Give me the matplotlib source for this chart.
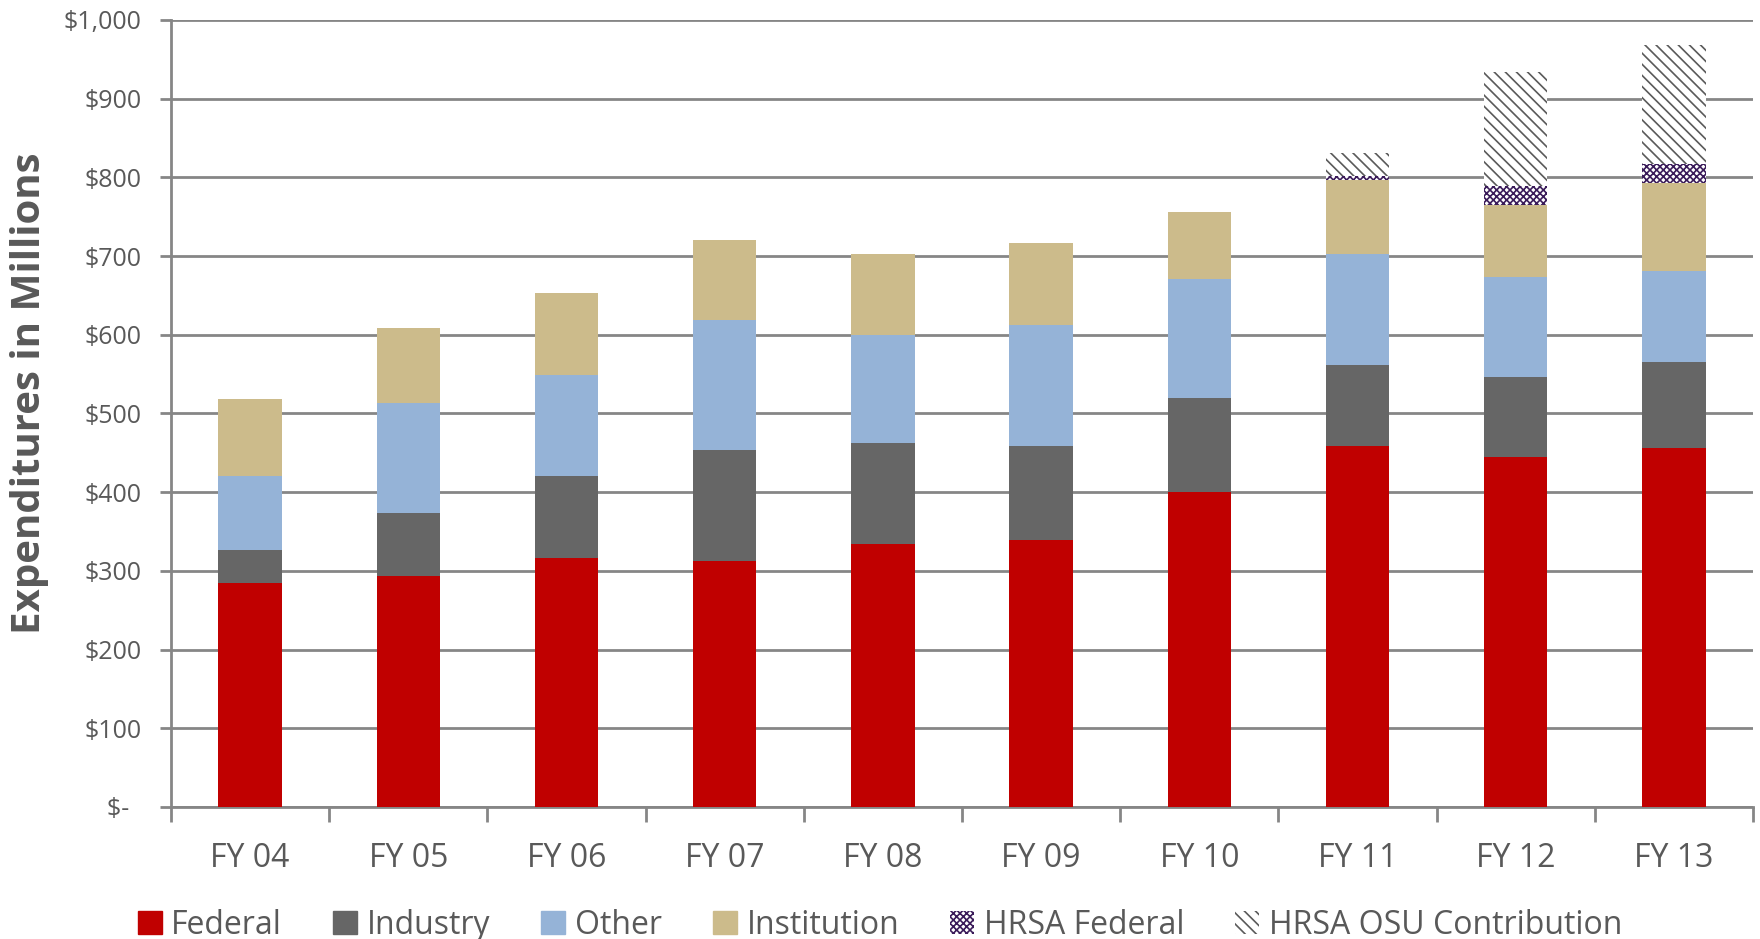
import numpy as np
import matplotlib
matplotlib.use("Agg")
import matplotlib.pyplot as plt
from matplotlib.patches import Patch

plt.rcParams['font.family'] = ['Open Sans', 'DejaVu Sans']
plt.rcParams['hatch.linewidth'] = 1.2

years = ['FY 04', 'FY 05', 'FY 06', 'FY 07', 'FY 08', 'FY 09', 'FY 10', 'FY 11', 'FY 12', 'FY 13']

# expenditures in millions, one segment per source
federal = [284, 293, 316, 313, 334, 339, 400, 459, 445, 456]
industry = [43, 81, 105, 141, 129, 120, 120, 102, 101, 110]
other = [94, 139, 128, 165, 137, 154, 151, 142, 128, 115]
institution = [97, 96, 104, 101, 103, 104, 85, 94, 91, 112]
hrsa_federal = [0, 0, 0, 0, 0, 0, 0, 5, 24, 24]
hrsa_osu = [0, 0, 0, 0, 0, 0, 0, 29, 145, 151]

y_ticks = [0, 100, 200, 300, 400, 500, 600, 700, 800, 900, 1000]
y_labels = ['$-  ', '$100', '$200', '$300', '$400', '$500', '$600', '$700', '$800', '$900', '$1,000']

text_col = '#595959'
grid_col = '#868686'

fig = plt.figure(figsize=(17.6, 9.39), dpi=100)
ax = fig.add_axes([171/1760, 132/939, 1582/1760, 787/939])

x = np.arange(len(years))
w = 0.4
bottom = np.zeros(len(years))

series = [
    ('Federal', federal, dict(color='#C00000')),
    ('Industry', industry, dict(color='#666666')),
    ('Other', other, dict(color='#95B3D7')),
    ('Institution', institution, dict(color='#CCBB8B')),
    ('HRSA Federal', hrsa_federal, dict(facecolor='white', edgecolor='#3B1C5A', hatch='xxxxx', linewidth=0)),
    ('HRSA OSU Contribution', hrsa_osu, dict(facecolor='white', edgecolor='#5A5A5A', hatch='\\\\\\', linewidth=0)),
]

handles = []
for name, vals, style in series:
    vals = np.array(vals, dtype=float)
    ax.bar(x, vals, w, bottom=bottom, zorder=3, **style)
    bottom += vals
    handles.append(Patch(label=name, **style))

ax.set_xlim(-0.5, len(years) - 0.5)
ax.set_ylim(0, 1000)
ax.set_yticks(y_ticks)
ax.set_yticklabels(y_labels)
ax.set_xticks(x)
ax.set_xticklabels(years)
ax.set_xticks(np.arange(-0.5, len(years), 1), minor=True)

ax.yaxis.grid(True, color=grid_col, linewidth=2, zorder=0)
ax.set_axisbelow(True)
for s in ['top', 'right']:
    ax.spines[s].set_visible(False)
for s in ['left', 'bottom']:
    ax.spines[s].set_color(grid_col)
    ax.spines[s].set_linewidth(2)

ax.tick_params(axis='y', colors=grid_col, labelcolor=text_col, labelsize=18, length=8, width=2, pad=13)
ax.tick_params(axis='x', which='major', length=0, labelcolor=text_col, labelsize=23, pad=25)
ax.tick_params(axis='x', which='minor', length=11, width=2, colors=grid_col)

fig.text(30/1760, 1 - 393/939, 'Expenditures in Millions', rotation=90, ha='center', va='center',
         fontsize=29, fontweight='bold', color=text_col)

fig.legend(handles=handles, loc='center', bbox_to_anchor=(0.5, 14/939), ncol=6, frameon=False,
           fontsize=23, labelcolor=text_col, handlelength=0.75, handleheight=0.75,
           handletextpad=0.3, columnspacing=1.6)

fig.savefig('out.png', dpi=100)
